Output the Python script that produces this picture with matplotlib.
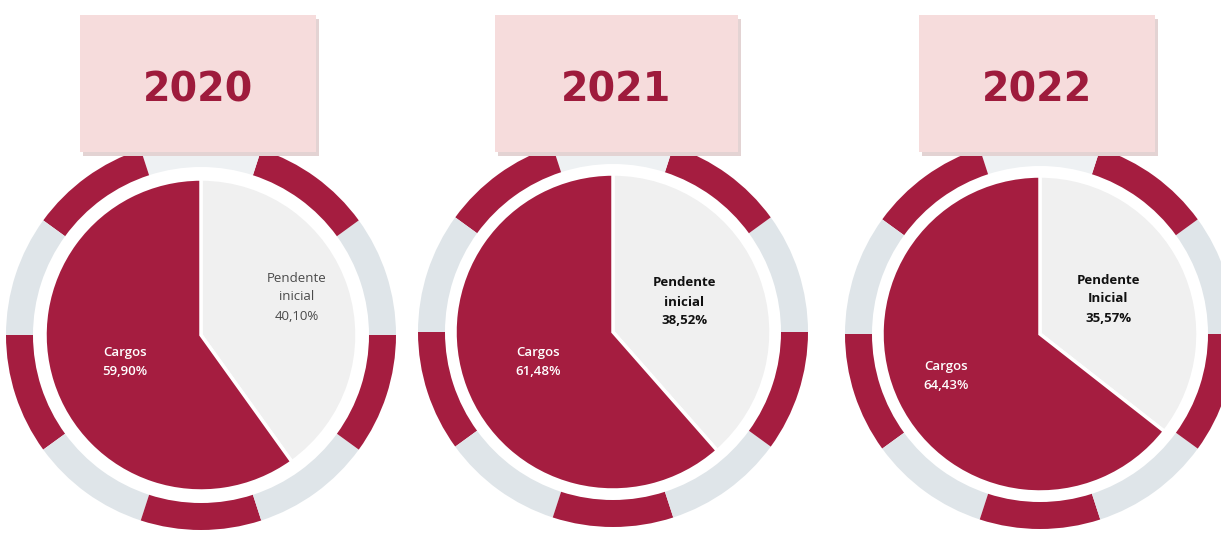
import matplotlib
matplotlib.use("Agg")
import matplotlib.pyplot as plt
from matplotlib.patches import Wedge, Rectangle

# ---- data ----
years = ["2020", "2021", "2022"]
cargos_pct = [59.90, 61.48, 64.43]
pendente_pct = [40.10, 38.52, 35.57]
cargos_labels = ["Cargos", "Cargos", "Cargos"]
pendente_labels = ["Pendente\ninicial", "Pendente\ninicial", "Pendente\nInicial"]

# ---- style / layout ----
RED = "#a51d40"
LIGHT = "#f0f0f0"
RING_GRAY = "#dfe5e9"
RING_TOP = "#eef1f3"
BOX = "#f6dcdc"
W, H = 1221, 541
centers_px = [(201, 335), (613, 332), (1040, 334)]
pie_r = [156, 158, 158]
ring_in, ring_out = 168, 195
box_px = [(80, 15, 236, 137), (495, 15, 243, 137), (919, 15, 236, 137)]
pend_off = [(96, -38), (71, -30), (68, -35)]
carg_off = [(-76, 27), (-75, 30), (-94, 42)]
pend_style = [dict(color="#4a4a4a", fontweight="normal"),
              dict(color="#111111", fontweight="bold"),
              dict(color="#111111", fontweight="bold")]

plt.rcParams["font.family"] = ["Open Sans", "DejaVu Sans"]
fig = plt.figure(figsize=(W / 100, H / 100), dpi=100)
ax = fig.add_axes([0, 0, 1, 1])

def fmt(v):
    return f"{v:.2f}".replace(".", ",") + "%"

for i, yr in enumerate(years):
    cx, cyp = centers_px[i]
    cy = H - cyp
    # decorative ring: 10 segments of 36 degrees
    for k in range(10):
        t1 = 36 * k
        if k % 2 == 1:
            col = RED
        elif k == 2:
            col = RING_TOP
        else:
            col = RING_GRAY
        ax.add_patch(Wedge((cx, cy), ring_out, t1, t1 + 36,
                           width=ring_out - ring_in, facecolor=col,
                           edgecolor="none", zorder=1))
    # pie
    ax.pie([pendente_pct[i], cargos_pct[i]], colors=[LIGHT, RED],
           startangle=90, counterclock=False, center=(cx, cy),
           radius=pie_r[i], frame=True,
           wedgeprops=dict(edgecolor="white", linewidth=2.5))
    # labels
    px, py = pend_off[i]
    ax.text(cx + px, cy - py, pendente_labels[i] + "\n" + fmt(pendente_pct[i]),
            ha="center", va="center", fontsize=9.5, linespacing=1.6,
            zorder=5, **pend_style[i])
    qx, qy = carg_off[i]
    ax.text(cx + qx, cy - qy, cargos_labels[i] + "\n" + fmt(cargos_pct[i]),
            ha="center", va="center", fontsize=9.5, linespacing=1.6,
            color="white", fontweight="semibold", zorder=5)
    # title box
    bx, by, bw, bh = box_px[i]
    ax.add_patch(Rectangle((bx + 3, H - by - bh - 4), bw, bh,
                           facecolor="#e3d3d3", edgecolor="none", zorder=6))
    ax.add_patch(Rectangle((bx, H - by - bh), bw, bh,
                           facecolor=BOX, edgecolor="none", zorder=7))
    ax.text(bx + bw / 2, H - 91, yr, ha="center", va="center",
            fontsize=28.5, fontweight="bold", color="#9e1b3c",
            family="DejaVu Sans", zorder=8)

ax.set_xlim(0, W)
ax.set_ylim(0, H)
ax.set_aspect("equal")
ax.axis("off")
fig.savefig("out.png", dpi=100)
